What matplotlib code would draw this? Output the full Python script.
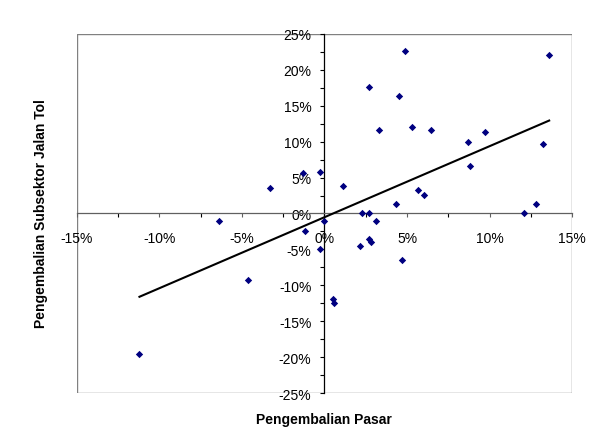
import numpy as np
import matplotlib
matplotlib.use("Agg")
import matplotlib.pyplot as plt
from matplotlib.patches import Rectangle
from matplotlib.ticker import MultipleLocator, FuncFormatter

plt.rcParams['font.family'] = ['Liberation Sans', 'DejaVu Sans']

# market return (x) and toll-road subsector return (y), in percent
pasar = [-0.3, -1.3, 1.1, 4.9, 2.7, 4.5, 3.3, 5.3, 6.45, 8.66, 9.7, 8.8,
         13.6, 13.25, 5.66, 6.0, 4.3, 2.3, 2.7, 12.05, 12.8, 0.0, -1.2,
         3.1, -0.3, 2.15, 2.7, 2.8, 4.7, 0.5, 0.58, -6.4, -4.6, -11.2, -3.3]
jalan_tol = [5.8, 5.6, 3.8, 22.6, 17.6, 16.3, 11.6, 12.0, 11.6, 10.0, 11.3,
             6.6, 22.1, 9.6, 3.3, 2.6, 1.3, 0.0, 0.0, 0.0, 1.3, -1.0, -2.5,
             -1.0, -4.9, -4.5, -3.6, -3.9, -6.5, -11.9, -12.4, -1.0, -9.2,
             -19.6, 3.6]

x_label = "Pengembalian Pasar"
y_label = "Pengembalian Subsektor Jalan Tol"

fig = plt.figure(figsize=(6.13, 4.39), dpi=100)
ax = fig.add_axes([0.1251, 0.1018, 0.8085, 0.8192])

ax.scatter(pasar, jalan_tol, marker='D', s=14, color='#000080', zorder=3,
           linewidths=0)

# linear trendline
slope, intercept = np.polyfit(pasar, jalan_tol, 1)
xs = np.array([min(pasar), max(pasar)])
ax.plot(xs, slope * xs + intercept, color='black', lw=1.5, zorder=4)

ax.set_xlim(-15, 15)
ax.set_ylim(-25, 25)

# axes crossing at zero
ax.spines['left'].set_position(('data', 0))
ax.spines['bottom'].set_position(('data', 0))
ax.spines['right'].set_visible(False)
ax.spines['top'].set_visible(False)
ax.spines['left'].set_color('black')
ax.spines['bottom'].set_color('#606060')
ax.spines['left'].set_linewidth(0.9)
ax.spines['bottom'].set_linewidth(0.9)

# plot-area border
ax.add_patch(Rectangle((0, 0), 1, 1, transform=ax.transAxes, fill=False,
                       edgecolor='#808080', lw=1.0, zorder=1))

pct = FuncFormatter(lambda v, p: "%d%%" % round(v))
ax.xaxis.set_major_locator(MultipleLocator(5))
ax.xaxis.set_minor_locator(MultipleLocator(2.5))
ax.yaxis.set_major_locator(MultipleLocator(5))
ax.yaxis.set_minor_locator(MultipleLocator(2.5))
ax.xaxis.set_major_formatter(pct)
ax.yaxis.set_major_formatter(pct)

ax.tick_params(axis='x', which='both', direction='out', length=3,
               width=0.8, labelsize=10, pad=9.5)
ax.tick_params(axis='y', which='both', direction='out', length=3,
               width=0.8, labelsize=10, pad=6.5)
ax.tick_params(axis='x', which='major', color='#606060')

fig.text(0.5285, 0.043, x_label, ha='center', va='center',
         fontsize=10, fontweight='bold')
fig.text(0.067, 0.513, y_label, ha='center', va='center', rotation=90,
         fontsize=10, fontweight='bold')

fig.savefig("out.png", dpi=100)
